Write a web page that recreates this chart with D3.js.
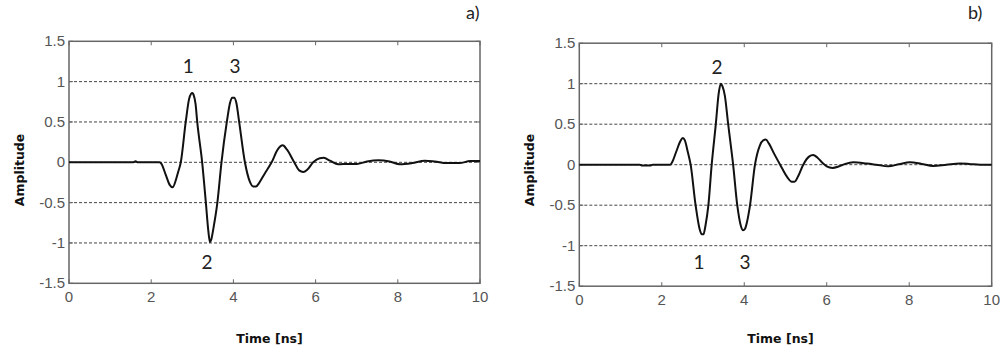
<!DOCTYPE html>
<html>
<head>
<meta charset="utf-8">
<script src="https://cdn.jsdelivr.net/npm/d3@7"></script>
<style>
  body { margin: 0; background: #fff; }
  svg { display: block; }
  .tick-label { font-family: "Liberation Sans", Arial, sans-serif; font-size: 15px; fill: #555; }
  .axis-title { font-family: "DejaVu Sans", Verdana, sans-serif; font-weight: bold; font-size: 12.5px; fill: #111; }
  .peak-label { font-family: Lato, "Open Sans", sans-serif; font-size: 19px; fill: #222; }
  .panel-tag { font-family: Lato, "Open Sans", sans-serif; font-size: 18px; fill: #222; }
</style>
</head>
<body>
<div id="chart"></div>
<script>
// waveform a): time [ns] and amplitude
const timeA = [0, 1.55, 1.62, 1.68, 2.2, 2.25, 2.35, 2.45, 2.52, 2.6, 2.65, 2.72, 2.84, 2.92, 2.97, 3.0, 3.03,
  3.08, 3.12, 3.24, 3.33, 3.39, 3.43, 3.46, 3.52, 3.61, 3.71, 3.84, 3.92, 3.97, 4.02, 4.07, 4.14, 4.28,
  4.4, 4.48, 4.55, 4.62, 4.75, 4.93, 5.08, 5.2, 5.3, 5.48, 5.6, 5.7, 5.8, 5.94, 6.1, 6.2, 6.35, 6.55,
  6.8, 7.0, 7.25, 7.53, 7.8, 8.05, 8.35, 8.66, 8.9, 9.19, 9.5, 9.76, 10];
const ampA = [0, 0, 0.012, 0, 0, -0.02, -0.15, -0.28, -0.31, -0.22, -0.13, 0, 0.5, 0.78, 0.85, 0.86, 0.84,
  0.72, 0.5, 0, -0.5, -0.85, -0.99, -0.96, -0.8, -0.5, 0, 0.5, 0.74, 0.8, 0.8, 0.74, 0.5, 0,
  -0.24, -0.3, -0.3, -0.26, -0.15, 0, 0.16, 0.21, 0.16, 0, -0.1, -0.12, -0.09, 0, 0.05, 0.055, 0.02, -0.025,
  -0.02, -0.02, 0.01, 0.025, 0.01, -0.025, -0.01, 0.02, 0.01, -0.01, -0.01, 0.015, 0.015];

// waveform b)
const timeB = [0, 1.47, 1.52, 1.72, 1.78, 2.2, 2.25, 2.35, 2.45, 2.51, 2.56, 2.63, 2.7, 2.82, 2.92, 2.97, 3.01,
  3.06, 3.13, 3.21, 3.31, 3.38, 3.43, 3.47, 3.53, 3.61, 3.73, 3.83, 3.92, 3.97, 4.02, 4.07, 4.14, 4.26,
  4.38, 4.46, 4.52, 4.6, 4.72, 4.87, 5.05, 5.15, 5.22, 5.3, 5.43, 5.57, 5.67, 5.77, 5.9, 6.0, 6.14, 6.3,
  6.45, 6.64, 6.97, 7.2, 7.49, 7.75, 8.02, 8.3, 8.58, 8.9, 9.23, 9.45, 9.72, 10];
const ampB = [0, 0, -0.01, -0.01, 0, 0, 0.03, 0.16, 0.29, 0.33, 0.3, 0.16, 0, -0.5, -0.8, -0.86, -0.86,
  -0.75, -0.5, 0, 0.5, 0.88, 1.0, 0.97, 0.85, 0.5, 0, -0.5, -0.76, -0.81, -0.79, -0.7, -0.5, 0,
  0.24, 0.3, 0.31, 0.26, 0.14, 0, -0.16, -0.21, -0.21, -0.15, 0, 0.1, 0.12, 0.09, 0.02, -0.02, -0.04, -0.02,
  0.01, 0.03, 0.015, 0, -0.02, 0.005, 0.03, 0.01, -0.015, 0, 0.015, 0.01, 0, 0];

const xTicks = [0, 2, 4, 6, 8, 10];
const yTicks = [-1.5, -1, -0.5, 0, 0.5, 1, 1.5];
const gridLevels = [-1, -0.5, 0, 0.5, 1];

// peak numbers: label, time, amplitude (where the text sits)
const peaksA = [["1", 2.9, 1.11], ["3", 4.04, 1.11], ["2", 3.36, -1.32]];
const peaksB = [["2", 3.34, 1.12], ["1", 2.9, -1.29], ["3", 4.02, -1.29]];

const width = 1000, height = 349;
const svg = d3.select('#chart').append('svg')
  .attr('width', width).attr('height', height);

function drawPanel(p){
  const x = d3.scaleLinear().domain([0, 10]).range([p.left, p.right]);
  const y = d3.scaleLinear().domain([-1.5, 1.5]).range([p.bottom, p.top]);
  const g = svg.append('g');

  // dashed grid
  g.selectAll('.grid').data(gridLevels).join('line')
    .attr('x1', x(0)).attr('x2', x(10))
    .attr('y1', d => y(d)).attr('y2', d => y(d))
    .attr('stroke', '#444').attr('stroke-width', 1)
    .attr('stroke-dasharray', '3,2');

  // inward ticks on all sides
  const tl = 4;
  g.selectAll('.xtb').data(xTicks).join('line')
    .attr('x1', d => x(d)).attr('x2', d => x(d))
    .attr('y1', y(-1.5)).attr('y2', y(-1.5) - tl)
    .attr('stroke', '#666');
  g.selectAll('.xtt').data(xTicks).join('line')
    .attr('x1', d => x(d)).attr('x2', d => x(d))
    .attr('y1', y(1.5)).attr('y2', y(1.5) + tl)
    .attr('stroke', '#666');
  g.selectAll('.ytl').data(yTicks).join('line')
    .attr('x1', x(0)).attr('x2', x(0) + tl)
    .attr('y1', d => y(d)).attr('y2', d => y(d))
    .attr('stroke', '#666');
  g.selectAll('.ytr').data(yTicks).join('line')
    .attr('x1', x(10)).attr('x2', x(10) - tl)
    .attr('y1', d => y(d)).attr('y2', d => y(d))
    .attr('stroke', '#666');

  // frame
  g.append('rect')
    .attr('x', x(0)).attr('y', y(1.5))
    .attr('width', x(10) - x(0)).attr('height', y(-1.5) - y(1.5))
    .attr('fill', 'none').attr('stroke', '#666').attr('stroke-width', 1.5);

  // tick labels
  g.selectAll('.xl').data(xTicks).join('text')
    .attr('class', 'tick-label')
    .attr('x', d => x(d)).attr('y', y(-1.5) + 19)
    .attr('text-anchor', 'middle')
    .text(d => d);
  g.selectAll('.yl').data(yTicks).join('text')
    .attr('class', 'tick-label')
    .attr('x', x(0) - 4).attr('y', d => y(d) + 5)
    .attr('text-anchor', 'end')
    .text(d => d);

  // waveform
  const pts = p.t.map((t, i) => [t, p.a[i]]);
  g.append('path')
    .attr('d', d3.line().x(d => x(d[0])).y(d => y(d[1])).curve(d3.curveMonotoneX)(pts))
    .attr('fill', 'none').attr('stroke', '#111').attr('stroke-width', 2)
    .attr('stroke-linejoin', 'round');

  // peak numbers
  g.selectAll('.pk').data(p.peaks).join('text')
    .attr('class', 'peak-label')
    .attr('x', d => x(d[1])).attr('y', d => y(d[2]))
    .attr('text-anchor', 'middle')
    .text(d => d[0]);

  // axis titles
  g.append('text').attr('class', 'axis-title')
    .attr('x', (x(0) + x(10)) / 2 - 5).attr('y', 343)
    .attr('text-anchor', 'middle').text('Time [ns]');
  g.append('text').attr('class', 'axis-title')
    .attr('transform', `translate(${p.left - 45},170) rotate(-90)`)
    .attr('text-anchor', 'middle').text('Amplitude');

  g.append('text').attr('class', 'panel-tag')
    .attr('x', p.tagX).attr('y', 19).text(p.tag);
}

drawPanel({left: 69, right: 480, top: 41.3, bottom: 283.3, t: timeA, a: ampA, peaks: peaksA, tag: 'a)', tagX: 466});
drawPanel({left: 579.3, right: 991.7, top: 43.2, bottom: 286.2, t: timeB, a: ampB, peaks: peaksB, tag: 'b)', tagX: 968});
</script>
</body>
</html>
